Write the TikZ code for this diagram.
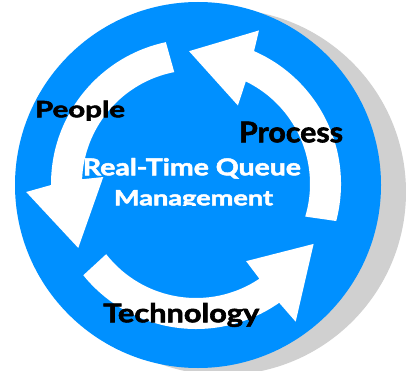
\documentclass[tikz,border=0pt]{standalone}
\usepackage{fontspec}
\setmainfont{Lato}[BoldFeatures={FakeBold=2}]
\usepackage{graphicx}
% bold text stretched to a given width and height
\newcommand{\fitword}[3]{\resizebox{#1pt}{#2pt}{\bfseries #3}}
\begin{document}
\begin{tikzpicture}[x=1pt,y=1pt,
  disc/.style={fill=discblue},
  shade/.style={fill=shadowgray},
  cyclearrow/.style={fill=white},
  label/.style={anchor=base,inner sep=0pt,text=black},
  centrelabel/.style={anchor=base,inner sep=0pt,text=white}]
\definecolor{discblue}{RGB}{0,144,255}
\definecolor{shadowgray}{RGB}{208,208,208}
\useasboundingbox (0,0) rectangle (406,370);
% drop shadow and main disc
\fill[shade] (223,178) circle[radius=183];
\fill[disc] (198,185) circle[radius=183];
% three white arrows turning anticlockwise round the centre
\begin{scope}[shift={(196,186)}]
  % People
  \fill[cyclearrow] (102:145) arc[start angle=102, end angle=180.4, radius=145]
    -- (182.7:170) -- (208.5:134) -- (175.7:93) -- (177.6:114)
    arc[start angle=177.6, end angle=101, radius=114] -- cycle;
  % Process
  \fill[cyclearrow] (-14.8:145) arc[start angle=-14.8, end angle=66.4, radius=145]
    -- (67.7:166) -- (93:133) -- (61.9:89) -- (64.1:114)
    arc[start angle=64.1, end angle=-16.6, radius=114] -- cycle;
  % Technology
  \fill[cyclearrow] (219:145) arc[start angle=219, end angle=305, radius=145]
    -- (305.9:170) -- (333:132) -- (303:92) -- (303.8:114)
    arc[start angle=303.8, end angle=218, radius=114] -- cycle;
\end{scope}
% labels
\begin{scope}
  \clip (0,250) rectangle (406,370);
  \node[label] (people) at (80,252.7) {\fitword{90}{16.8}{People}};
\end{scope}
\node[label] (process) at (291,227.7) {\fitword{104}{20.6}{Process}};
\node[label] (technology) at (181.2,47.7) {\fitword{156}{19.3}{Technology}};
\node[centrelabel] (title1) at (191.9,194.7) {\fitword{218}{17.3}{Real-Time Queue}};
\begin{scope}
  \clip (0,164.7) rectangle (406,370);
  \node[centrelabel] (title2) at (193.5,164.7) {\fitword{159}{15.2}{Management}};
\end{scope}
\end{tikzpicture}
\end{document}
